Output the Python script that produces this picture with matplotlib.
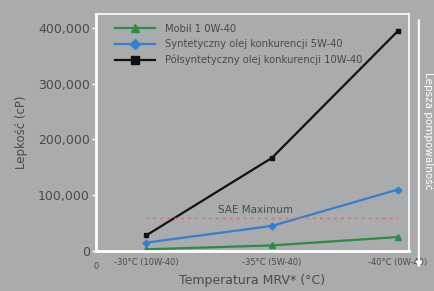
import matplotlib.pyplot as plt
from matplotlib.patches import FancyArrowPatch
from matplotlib.ticker import FuncFormatter

# Data
temps = ['-30°C (10W-40)', '-35°C (5W-40)', '-40°C (0W-40)']
mobil = [3000, 10000, 25000]
synt = [15000, 45000, 110000]
polsynt = [28000, 167000, 394000]
sae_max = 60000

bg = '#a9abad'
txt = '#4a4a4a'

fig = plt.figure(figsize=(4.35, 2.91), dpi=100, facecolor=bg)
ax = fig.add_axes([0.2207, 0.1375, 0.7195, 0.8145], facecolor=bg)

x = range(len(temps))
ax.plot(x, mobil, color='#2e8b45', lw=1.6, marker='^', ms=4, label='Mobil 1 0W-40')
ax.plot(x, synt, color='#3580cc', lw=1.6, marker='D', ms=3.5, label='Syntetyczny olej konkurencji 5W-40')
ax.plot(x, polsynt, color='#111111', lw=1.6, marker='s', ms=3.5, label='Półsyntetyczny olej konkurencji 10W-40')
ax.plot([0, 2], [sae_max, sae_max], color='#c97a6a', lw=1, ls=(0, (2, 3)))
ax.text(0.57, sae_max + 5000, 'SAE Maximum', color=txt, fontsize=7.5, va='bottom')

ax.set_xlim(-0.4, 2.09)
ax.set_ylim(0, 425000)
ax.set_yticks([0, 100000, 200000, 300000, 400000])
ax.yaxis.set_major_formatter(FuncFormatter(lambda v, p: f'{int(v):,}'))
ax.set_xticks(list(x))
ax.set_xticklabels(temps)
ax.tick_params(axis='y', colors='white', labelcolor=txt, labelsize=9, length=3, width=1, pad=1.5)
ax.tick_params(axis='x', length=0, labelcolor=txt, labelsize=6, pad=5)
ax.text(-0.4, -0.045, '0', transform=ax.get_xaxis_transform(), fontsize=6,
        color=txt, ha='center', va='top')

for s in ax.spines.values():
    s.set_color('white')
ax.spines['left'].set_linewidth(2)
ax.spines['bottom'].set_linewidth(2)
ax.spines['top'].set_linewidth(1.2)
ax.spines['right'].set_linewidth(1.2)

ax.set_xlabel('Temperatura MRV* (°C)', color=txt, fontsize=9, labelpad=5)
ax.set_ylabel('Lepkość (cP)', color=txt, fontsize=8.5, labelpad=7)

leg = ax.legend(loc='upper left', frameon=False, fontsize=7.2, handlelength=4,
                handletextpad=1.0, labelspacing=0.55, borderpad=0.5,
                bbox_to_anchor=(0.03, 1.0), markerscale=1.5)
for t in leg.get_texts():
    t.set_color(txt)

# right-hand arrow annotation
fig.patches.append(FancyArrowPatch(
    (0.963, 0.94), (0.963, 0.07), transform=fig.transFigure,
    arrowstyle='-|>', mutation_scale=7, color='white', lw=1.5))
fig.text(0.985, 0.55, 'Lepsza pompowalność', rotation=-90, color='white',
         fontsize=7.5, ha='center', va='center')

fig.savefig('out.png', dpi=100, facecolor=bg)
